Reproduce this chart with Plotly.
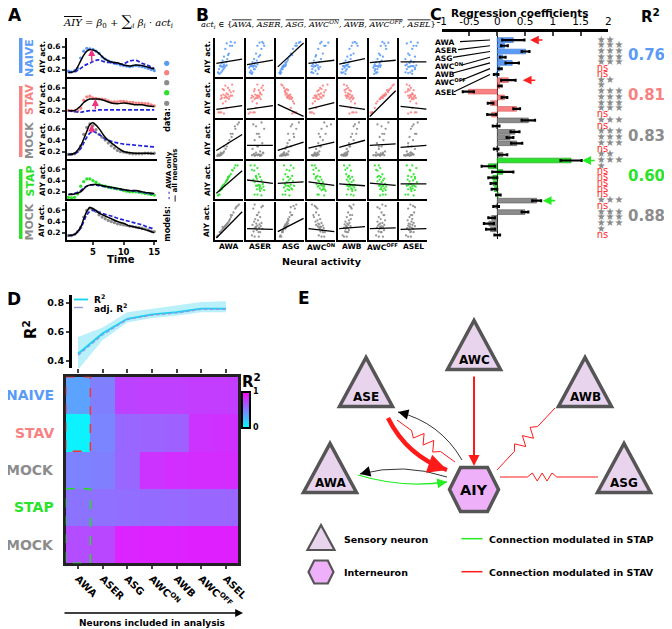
import math
import plotly.graph_objects as go

# page is 672x629; the browser page has an 8px body margin, so the figure is 664x621
PAGE_W, PAGE_H = 672, 629
OFF = 8
W, H = PAGE_W - OFF, PAGE_H - OFF
FONT = "DejaVu Sans"
SERIF = "DejaVu Serif"


def fx(px):
    return (px - OFF) / W


def fy(py):
    return 1 - (py - OFF) / H


# ====================== DATA ======================
CONDITIONS = ["NAIVE", "STAV", "MOCK", "STAP", "MOCK"]
COND_COLORS = ["#5b9bf8", "#f88282", "#8c8c8c", "#2be22b", "#8c8c8c"]
NEURONS = ["AWA", "ASER", "ASG", "AWC<sup>ON</sup>", "AWB", "AWC<sup>OFF</sup>", "ASEL"]

# ---- Panel A: AIY activity over time ----
T_DATA = [1.0, 1.5, 2.0, 2.5, 3.0, 3.5, 4.0, 4.5, 5.0, 5.5, 6.0, 6.5, 7.0, 7.5, 8.0,
          8.5, 9.0, 9.5, 10.0, 10.5, 11.0, 11.5, 12.0, 12.5, 13.0, 13.5, 14.0, 14.5, 15.0]
AIY_NAIVE = [0.17, 0.16, 0.18, 0.22, 0.40, 0.52, 0.57, 0.56, 0.55, 0.52, 0.48, 0.42, 0.38, 0.35, 0.33,
             0.31, 0.30, 0.28, 0.27, 0.26, 0.25, 0.26, 0.27, 0.26, 0.25, 0.24, 0.22, 0.20, 0.18]
AIY_STAV = [0.20, 0.20, 0.19, 0.20, 0.24, 0.38, 0.44, 0.45, 0.42, 0.41, 0.40, 0.40, 0.39, 0.37, 0.35,
            0.35, 0.35, 0.36, 0.36, 0.35, 0.34, 0.34, 0.33, 0.33, 0.33, 0.32, 0.32, 0.30, 0.28]
AIY_MOCK1 = [0.15, 0.15, 0.16, 0.20, 0.30, 0.50, 0.62, 0.68, 0.65, 0.58, 0.50, 0.45, 0.40, 0.35, 0.30,
             0.26, 0.22, 0.20, 0.19, 0.18, 0.17, 0.16, 0.16, 0.16, 0.16, 0.17, 0.17, 0.17, 0.17]
AIY_STAP = [0.10, 0.09, 0.10, 0.16, 0.30, 0.38, 0.43, 0.43, 0.40, 0.37, 0.33, 0.31, 0.30, 0.28, 0.27,
            0.26, 0.25, 0.24, 0.22, 0.21, 0.20, 0.20, 0.20, 0.19, 0.18, 0.17, 0.16, 0.15, 0.14]
AIY_MOCK2 = [0.15, 0.15, 0.17, 0.22, 0.30, 0.48, 0.60, 0.64, 0.62, 0.58, 0.52, 0.48, 0.45, 0.42, 0.40,
             0.38, 0.36, 0.35, 0.34, 0.33, 0.32, 0.31, 0.30, 0.29, 0.28, 0.27, 0.25, 0.23, 0.22]

T_MODEL = [1, 2, 3, 3.5, 4, 4.5, 5, 5.5, 6, 7, 8, 9, 10, 11, 12, 13, 14, 15]
ALL_NAIVE = [0.15, 0.17, 0.35, 0.45, 0.52, 0.55, 0.54, 0.52, 0.48, 0.38, 0.33, 0.32, 0.28, 0.26, 0.28, 0.27, 0.24, 0.21]
AWA_NAIVE = [0.15, 0.16, 0.22, 0.26, 0.29, 0.31, 0.34, 0.36, 0.37, 0.33, 0.32, 0.30, 0.30, 0.35, 0.36, 0.31, 0.27, 0.22]
ALL_STAV = [0.20, 0.20, 0.28, 0.34, 0.38, 0.40, 0.40, 0.40, 0.40, 0.37, 0.33, 0.32, 0.33, 0.32, 0.30, 0.30, 0.28, 0.27]
AWA_STAV = [0.20, 0.18, 0.17, 0.18, 0.19, 0.20, 0.20, 0.20, 0.21, 0.21, 0.21, 0.21, 0.21, 0.21, 0.21, 0.21, 0.21, 0.21]
ALL_MOCK1 = [0.15, 0.17, 0.30, 0.42, 0.55, 0.67, 0.70, 0.66, 0.60, 0.45, 0.35, 0.27, 0.20, 0.18, 0.17, 0.17, 0.17, 0.16]
AWA_MOCK1 = [0.15, 0.16, 0.25, 0.35, 0.45, 0.52, 0.55, 0.53, 0.50, 0.42, 0.38, 0.35, 0.33, 0.32, 0.31, 0.30, 0.29, 0.28]
ALL_STAP = [0.15, 0.16, 0.20, 0.25, 0.30, 0.32, 0.33, 0.33, 0.32, 0.30, 0.28, 0.26, 0.24, 0.22, 0.22, 0.20, 0.18, 0.17]
AWA_STAP = [0.15, 0.17, 0.22, 0.27, 0.30, 0.32, 0.32, 0.32, 0.31, 0.29, 0.27, 0.25, 0.23, 0.22, 0.21, 0.19, 0.17, 0.16]
ALL_MOCK2 = [0.15, 0.17, 0.30, 0.45, 0.58, 0.65, 0.63, 0.60, 0.55, 0.50, 0.45, 0.40, 0.37, 0.32, 0.30, 0.27, 0.24, 0.20]
AWA_MOCK2 = [0.15, 0.17, 0.28, 0.40, 0.52, 0.58, 0.60, 0.58, 0.57, 0.53, 0.50, 0.46, 0.43, 0.40, 0.37, 0.34, 0.30, 0.27]

A_ARROW_ROWS = [0, 1, 2, 4]
A_ARROW_T = [4.8, 5.4, 4.8, 4.9]
A_ARROW_FROM = [0.32, 0.20, 0.50, 0.60]
A_ARROW_TO = [0.56, 0.40, 0.67, 0.655]

# ---- Panel B: AIY activity vs neural activity (per condition, per neuron) ----
B_X_NAIVE = [
    [10, 14, 20, 28, 45, 60, 55, 70, 40, 52, 35, 48, 30, 42, 25, 38, 22, 30, 18, 35, 26, 15, 40, 28, 20, 32, 12, 24, 8],
    [15, 20, 12, 30, 50, 65, 58, 48, 62, 40, 55, 35, 45, 28, 38, 22, 30, 40, 18, 26, 35, 20, 30, 14, 24, 10, 28, 16, 22],
    [8, 12, 15, 20, 55, 72, 85, 80, 70, 66, 58, 50, 45, 40, 38, 34, 30, 32, 26, 28, 22, 30, 25, 20, 24, 18, 15, 12, 10],
    [20, 35, 15, 40, 30, 65, 50, 75, 45, 60, 38, 55, 28, 48, 22, 42, 30, 18, 36, 25, 45, 14, 32, 26, 20, 38, 16, 28, 12],
    [12, 25, 18, 30, 45, 70, 60, 52, 66, 48, 40, 55, 32, 44, 26, 38, 20, 34, 28, 16, 40, 24, 30, 18, 36, 22, 14, 26, 10],
    [25, 18, 30, 22, 40, 60, 48, 70, 55, 42, 62, 35, 50, 30, 45, 25, 38, 20, 42, 28, 33, 18, 36, 24, 40, 15, 30, 20, 26],
    [30, 45, 20, 55, 35, 50, 40, 65, 25, 60, 45, 30, 55, 20, 40, 50, 35, 25, 60, 45, 30, 40, 20, 50, 35, 55, 25, 45, 38]]
B_X_STAV = [
    [10, 20, 30, 15, 40, 55, 35, 60, 45, 25, 50, 30, 65, 40, 20, 55, 35, 45, 28, 60, 38, 50, 22, 42, 32, 48, 18, 36, 26],
    [15, 30, 8, 25, 35, 50, 60, 40, 55, 30, 45, 62, 28, 50, 38, 20, 45, 55, 32, 40, 25, 48, 35, 18, 42, 30, 52, 22, 38],
    [60, 70, 55, 65, 50, 30, 20, 15, 25, 35, 30, 40, 28, 35, 45, 38, 42, 30, 48, 40, 50, 36, 55, 44, 38, 52, 46, 58, 62],
    [10, 15, 22, 8, 30, 60, 55, 72, 45, 50, 40, 65, 35, 48, 30, 55, 25, 42, 38, 58, 32, 45, 28, 50, 20, 40, 35, 26, 18],
    [50, 65, 40, 55, 45, 25, 30, 20, 35, 28, 40, 22, 45, 35, 30, 50, 26, 38, 42, 32, 48, 36, 55, 30, 44, 40, 52, 46, 60],
    [5, 10, 8, 12, 20, 70, 85, 90, 80, 75, 72, 65, 68, 60, 55, 58, 50, 62, 56, 52, 48, 45, 50, 44, 42, 40, 38, 30, 25],
    [40, 55, 30, 60, 45, 20, 35, 25, 40, 30, 50, 35, 28, 45, 38, 55, 30, 42, 48, 36, 52, 40, 58, 34, 46, 50, 44, 38, 60]]
B_X_MOCK1 = [
    [5, 8, 12, 18, 30, 55, 70, 85, 80, 72, 62, 58, 50, 45, 40, 36, 30, 28, 25, 22, 20, 18, 15, 14, 12, 16, 10, 14, 8],
    [30, 50, 20, 60, 40, 45, 35, 55, 25, 65, 38, 48, 30, 58, 42, 22, 50, 35, 62, 28, 45, 40, 55, 32, 48, 38, 26, 52, 44],
    [15, 10, 20, 25, 35, 60, 50, 80, 55, 70, 40, 62, 45, 38, 50, 30, 42, 25, 35, 20, 40, 28, 18, 32, 22, 38, 15, 30, 25],
    [20, 30, 15, 35, 45, 40, 70, 60, 85, 50, 65, 45, 55, 38, 48, 30, 42, 25, 36, 28, 40, 22, 34, 18, 30, 26, 20, 32, 24],
    [18, 25, 10, 30, 40, 65, 55, 75, 60, 68, 50, 45, 55, 38, 42, 30, 35, 28, 22, 32, 26, 20, 30, 15, 24, 28, 18, 22, 12],
    [25, 40, 15, 50, 35, 55, 45, 70, 30, 60, 48, 38, 52, 28, 45, 35, 58, 25, 42, 50, 32, 40, 55, 22, 38, 48, 30, 44, 35],
    [20, 35, 15, 40, 30, 55, 45, 65, 50, 40, 60, 35, 48, 30, 42, 55, 25, 38, 45, 30, 50, 22, 40, 35, 28, 48, 32, 42, 26]]
B_X_STAP = [
    [10, 8, 14, 22, 45, 60, 72, 80, 68, 62, 55, 50, 48, 45, 42, 40, 38, 36, 32, 30, 28, 26, 30, 24, 22, 20, 18, 16, 14],
    [40, 55, 30, 48, 35, 20, 30, 15, 40, 28, 45, 35, 50, 38, 25, 55, 42, 30, 60, 45, 35, 50, 40, 62, 48, 55, 38, 65, 50],
    [30, 45, 20, 55, 40, 35, 50, 25, 60, 45, 30, 55, 38, 48, 22, 42, 58, 35, 28, 50, 40, 32, 62, 45, 25, 52, 38, 44, 30],
    [40, 60, 35, 55, 30, 20, 15, 25, 30, 40, 22, 35, 45, 28, 50, 38, 42, 55, 32, 48, 60, 40, 52, 36, 58, 44, 62, 50, 65],
    [45, 55, 30, 50, 35, 25, 40, 20, 32, 45, 28, 38, 50, 42, 30, 55, 36, 48, 40, 60, 32, 52, 44, 38, 58, 46, 35, 62, 50],
    [50, 40, 60, 45, 30, 25, 35, 20, 40, 30, 48, 35, 42, 55, 38, 50, 30, 45, 58, 40, 52, 36, 48, 62, 44, 55, 40, 60, 50],
    [30, 50, 20, 40, 55, 35, 45, 25, 60, 38, 50, 30, 42, 55, 28, 48, 35, 62, 40, 32, 52, 45, 25, 58, 38, 46, 30, 54, 42]]
B_X_MOCK2 = [
    [5, 4, 8, 14, 25, 55, 75, 85, 80, 72, 65, 60, 56, 52, 50, 48, 44, 42, 40, 38, 36, 34, 32, 30, 28, 26, 22, 18, 16],
    [30, 45, 20, 50, 35, 40, 55, 30, 60, 25, 45, 38, 50, 32, 42, 28, 55, 36, 48, 22, 40, 52, 34, 46, 30, 58, 38, 26, 44],
    [10, 15, 12, 20, 30, 55, 50, 70, 60, 65, 48, 52, 45, 40, 42, 38, 35, 40, 30, 36, 28, 34, 26, 32, 25, 30, 22, 20, 18],
    [50, 60, 40, 55, 45, 20, 30, 15, 25, 35, 30, 40, 22, 45, 35, 28, 50, 38, 42, 30, 55, 36, 48, 40, 58, 44, 52, 46, 62],
    [20, 30, 15, 35, 28, 50, 45, 55, 40, 48, 35, 42, 30, 45, 38, 25, 40, 32, 22, 36, 28, 44, 30, 20, 34, 26, 38, 24, 30],
    [35, 50, 25, 45, 40, 55, 30, 48, 60, 38, 45, 52, 35, 42, 58, 30, 48, 40, 36, 55, 32, 44, 50, 28, 46, 38, 54, 34, 42],
    [30, 40, 22, 50, 35, 45, 55, 38, 48, 30, 52, 40, 35, 45, 28, 42, 50, 32, 38, 46, 30, 55, 36, 44, 26, 48, 34, 40, 38]]
# fitted-line AIY values at the low / high end of neural activity
B_FIT_LO_NAIVE = [0.295, 0.28, 0.25, 0.295, 0.285, 0.305, 0.315]
B_FIT_HI_NAIVE = [0.35, 0.335, 0.555, 0.335, 0.355, 0.335, 0.315]
B_FIT_LO_STAV = [0.227, 0.227, 0.272, 0.23, 0.262, 0.164, 0.255]
B_FIT_HI_STAV = [0.262, 0.262, 0.164, 0.287, 0.227, 0.395, 0.23]
B_FIT_LO_MOCK1 = [0.236, 0.317, 0.236, 0.274, 0.286, 0.317, 0.286]
B_FIT_HI_MOCK1 = [0.49, 0.317, 0.367, 0.367, 0.398, 0.342, 0.317]
B_FIT_LO_STAP = [0.115, 0.265, 0.226, 0.244, 0.222, 0.23, 0.222]
B_FIT_HI_STAP = [0.37, 0.226, 0.244, 0.205, 0.2, 0.205, 0.222]
B_FIT_LO_MOCK2 = [0.13, 0.274, 0.228, 0.274, 0.274, 0.274, 0.262]
B_FIT_HI_MOCK2 = [0.53, 0.262, 0.43, 0.228, 0.303, 0.286, 0.274]

# ---- Panel C: regression coefficients ----
C_COEF_NAIVE = [0.29, 0.13, 0.51, 0.10, 0.27, 0.05, -0.02]
C_ERR_NAIVE = [0.20, 0.06, 0.07, 0.05, 0.12, 0.03, 0.04]
C_COEF_STAV = [0.20, 0.05, -0.52, 0.13, -0.12, 0.35, -0.10]
C_ERR_STAV = [0.13, 0.03, 0.10, 0.05, 0.05, 0.06, 0.08]
C_COEF_MOCK1 = [0.56, -0.02, 0.32, 0.23, 0.35, -0.02, 0.10]
C_ERR_MOCK1 = [0.12, 0.06, 0.08, 0.06, 0.10, 0.04, 0.08]
C_COEF_STAP = [1.33, -0.16, 0.10, -0.08, -0.07, -0.05, 0.02]
C_ERR_STAP = [0.19, 0.12, 0.19, 0.08, 0.05, 0.05, 0.04]
C_COEF_MOCK2 = [0.71, -0.02, 0.50, -0.10, -0.15, -0.12, 0.00]
C_ERR_MOCK2 = [0.08, 0.05, 0.06, 0.06, 0.09, 0.08, 0.05]
# significance: number of stars, 0 = ns
C_SIG_NAIVE = [2, 3, 3, 3, 3, 0, 0]
C_SIG_STAV = [2, 1, 3, 3, 3, 3, 0]
C_SIG_MOCK1 = [3, 0, 3, 3, 3, 0, 2]
C_SIG_STAP = [3, 1, 0, 0, 0, 0, 0]
C_SIG_MOCK2 = [3, 0, 3, 3, 3, 1, 0]
C_R2 = [0.76, 0.81, 0.83, 0.60, 0.88]
C_XTICKS = [-1, -0.5, 0, 0.5, 1, 1.5, 2]

# ---- Panel D: R^2 with increasing number of neurons ----
D_R2 = [0.45, 0.59, 0.69, 0.72, 0.735, 0.76, 0.76]
D_ADJ_R2 = [0.44, 0.58, 0.685, 0.715, 0.73, 0.755, 0.755]
D_R2_HI = [0.565, 0.63, 0.735, 0.76, 0.78, 0.805, 0.81]
D_R2_LO = [0.34, 0.545, 0.665, 0.695, 0.71, 0.735, 0.735]
D_HEAT_NAIVE = [0.36, 0.50, 0.74, 0.75, 0.75, 0.76, 0.76]
D_HEAT_STAV = [0.05, 0.48, 0.60, 0.61, 0.62, 0.80, 0.81]
D_HEAT_MOCK1 = [0.49, 0.50, 0.60, 0.80, 0.82, 0.83, 0.83]
D_HEAT_STAP = [0.55, 0.56, 0.57, 0.58, 0.59, 0.60, 0.60]
D_HEAT_MOCK2 = [0.70, 0.72, 0.86, 0.87, 0.87, 0.88, 0.88]

# ---- Panel E: circuit ----
E_SENSORY = ["AWC", "ASE", "AWB", "AWA", "ASG"]
E_SENSORY_X = [474, 366, 585, 330, 624]
E_SENSORY_Y = [360, 397, 397, 483, 483]
E_INTER = ["AIY"]
E_INTER_X = [474]
E_INTER_Y = [489.5]
E_EDGE_KIND = ["arrow", "curve", "zigzag", "curve", "zigzag", "zigzag", "curve", "curve"]
E_EDGE_MOD = ["STAV", "STAV", "STAV", "none", "STAV", "STAV", "STAP", "none"]
E_EDGE_X0 = [474, 388, 397, 462, 555, 598, 358, 447]
E_EDGE_Y0 = [375, 418, 420, 460, 408, 477, 475, 477]
E_EDGE_X1 = [474, 447, 455, 398, 497, 500, 447, 360]
E_EDGE_Y1 = [466, 470, 462, 412, 470, 477, 482, 474]
E_EDGE_BEND = [0, 8, 0, 8.5, 0, 0, 5, 6.5]

# ====================== FIGURE ======================
A_DATA = [AIY_NAIVE, AIY_STAV, AIY_MOCK1, AIY_STAP, AIY_MOCK2]
A_ALL = [ALL_NAIVE, ALL_STAV, ALL_MOCK1, ALL_STAP, ALL_MOCK2]
A_AWA = [AWA_NAIVE, AWA_STAV, AWA_MOCK1, AWA_STAP, AWA_MOCK2]
B_X = [B_X_NAIVE, B_X_STAV, B_X_MOCK1, B_X_STAP, B_X_MOCK2]
B_LO = [B_FIT_LO_NAIVE, B_FIT_LO_STAV, B_FIT_LO_MOCK1, B_FIT_LO_STAP, B_FIT_LO_MOCK2]
B_HI = [B_FIT_HI_NAIVE, B_FIT_HI_STAV, B_FIT_HI_MOCK1, B_FIT_HI_STAP, B_FIT_HI_MOCK2]
C_COEF = [C_COEF_NAIVE, C_COEF_STAV, C_COEF_MOCK1, C_COEF_STAP, C_COEF_MOCK2]
C_ERR = [C_ERR_NAIVE, C_ERR_STAV, C_ERR_MOCK1, C_ERR_STAP, C_ERR_MOCK2]
C_SIG = [C_SIG_NAIVE, C_SIG_STAV, C_SIG_MOCK1, C_SIG_STAP, C_SIG_MOCK2]
D_HEAT = [D_HEAT_NAIVE, D_HEAT_STAV, D_HEAT_MOCK1, D_HEAT_STAP, D_HEAT_MOCK2]

fig = go.Figure()
LAYOUT = {}
annotations = []
shapes = []
counter = [0]


def add_axes(xd, yd, xkw, ykw):
    counter[0] += 1
    n = counter[0]
    s = "" if n == 1 else str(n)
    LAYOUT["xaxis" + s] = dict(domain=xd, anchor="y" + s, automargin=False, **xkw)
    LAYOUT["yaxis" + s] = dict(domain=yd, anchor="x" + s, automargin=False, **ykw)
    return "x" + s, "y" + s


def bfont(size, color="black"):
    return dict(family=FONT, size=size, color=color, weight="bold")


def text(px, py, s, size, color="black", bold=True, angle=0, xanchor="center",
         yanchor="middle", family=FONT):
    annotations.append(dict(x=fx(px), y=fy(py), xref="paper", yref="paper", text=s,
                            showarrow=False, textangle=angle, xanchor=xanchor, yanchor=yanchor,
                            font=dict(family=family, size=size, color=color,
                                      weight="bold" if bold else "normal")))


def pline(x0, y0, x1, y1, color="black", width=1, dash=None):
    shapes.append(dict(type="line", xref="paper", yref="paper", x0=fx(x0), y0=fy(y0),
                       x1=fx(x1), y1=fy(y1), line=dict(color=color, width=width, dash=dash)))


def prect(x0, y0, x1, y1, color):
    shapes.append(dict(type="rect", xref="paper", yref="paper", x0=fx(x0), y0=fy(y0),
                       x1=fx(x1), y1=fy(y1), fillcolor=color, line=dict(width=0)))


NOAX = dict(showgrid=False, zeroline=False)

# ---------------- Panel A ----------------
ROW_TOP = [38, 79, 120, 161, 202]
ROW_BOT = [77, 118, 159, 199, 240]
a_axes = []
for r in range(5):
    last = r == 4
    xa, ya = add_axes(
        [fx(67), fx(157)], [fy(ROW_BOT[r]), fy(ROW_TOP[r])],
        dict(range=[0.77, 15.45], showline=True, linecolor="black", linewidth=2, tickvals=[5, 10, 15],
             ticks="outside" if last else "", ticklen=3, tickwidth=1.5, showticklabels=last,
             tickfont=bfont(8.5), **NOAX),
        dict(range=[0.07, 0.75], showline=True, linecolor="black", linewidth=2, tickvals=[0.2, 0.4, 0.6],
             ticks="outside", ticklen=3, tickwidth=1.5, tickfont=bfont(7.5), **NOAX))
    a_axes.append((xa, ya))
    fig.add_trace(go.Scatter(x=T_DATA, y=A_DATA[r], mode="markers", xaxis=xa, yaxis=ya,
                             marker=dict(size=3.3, color=COND_COLORS[r])))
    fig.add_trace(go.Scatter(x=T_MODEL, y=A_AWA[r], mode="lines", xaxis=xa, yaxis=ya,
                             line=dict(color="#2323d6", width=1.7, dash="4px,2px", shape="spline")))
    fig.add_trace(go.Scatter(x=T_MODEL, y=A_ALL[r], mode="lines", xaxis=xa, yaxis=ya,
                             line=dict(color="black", width=1.5, shape="spline")))
    text(42, (ROW_TOP[r] + ROW_BOT[r]) / 2, "AIY act.", 7.5, angle=-90)
    text(29.5, (ROW_TOP[r] + ROW_BOT[r]) / 2 + 1, CONDITIONS[r], 11, COND_COLORS[r], angle=-90)

for k, r in enumerate(A_ARROW_ROWS):
    xa, ya = a_axes[r]
    annotations.append(dict(x=A_ARROW_T[k], y=A_ARROW_TO[k], ax=A_ARROW_T[k], ay=A_ARROW_FROM[k],
                            xref=xa, yref=ya, axref=xa, ayref=ya, text="", showarrow=True,
                            arrowhead=2, arrowsize=1, arrowwidth=1.4, arrowcolor="#f2307c"))

prect(19, 38, 22.5, 73, COND_COLORS[0])
prect(19, 86, 22.5, 157, COND_COLORS[1])
prect(19, 169, 22.5, 239, COND_COLORS[3])
for i, py in enumerate([63.3, 72.7, 82.7, 92.7, 103.3]):
    shapes.append(dict(type="circle", xref="paper", yref="paper", x0=fx(164.1), x1=fx(169.3),
                       y0=fy(py + 2.6), y1=fy(py - 2.6), fillcolor=COND_COLORS[i], line=dict(width=0)))
text(166.7, 120, "data:", 8, angle=-90)
text(166.7, 224, "models:", 8, angle=-90)
text(168.5, 176, "<span style='color:#2323d6'>- -</span> AWA only", 7, angle=-90)
text(175, 175, "<span style='color:black'>—</span> all neurons", 7, angle=-90)
text(121, 259, "Time", 10)
text(15, 15, "A", 17)
text(118, 21, "<span style='text-decoration:overline'><i>AIY</i></span> = <i>β</i><sub>0</sub> + "
              "<span style='font-size:15px'>∑</span><sub><i>i</i></sub> <i>β<sub>i</sub></i> · "
              "<i>act<sub>i</sub></i>", 10,
     bold=False, family=SERIF)

# ---------------- Panel B ----------------
B_YRANGE = [[0.12, 0.62], [0.15, 0.5], [0.1, 0.72], [0.05, 0.48], [0.1, 0.68]]
for r in range(5):
    for c in range(7):
        x0 = 215 + 30.7 * c
        xa, ya = add_axes(
            [fx(x0), fx(x0 + 28)], [fy(ROW_BOT[r]), fy(ROW_TOP[r])],
            dict(range=[-3, 100], showline=True, linecolor="black", linewidth=1.5,
                 showticklabels=False, ticks="", **NOAX),
            dict(range=B_YRANGE[r], showline=True, linecolor="black", linewidth=1.5,
                 showticklabels=False, ticks="", **NOAX))
        fig.add_trace(go.Scatter(x=B_X[r][c], y=A_DATA[r], mode="markers", xaxis=xa, yaxis=ya,
                                 marker=dict(size=2.3, color=COND_COLORS[r], opacity=0.9)))
        fig.add_trace(go.Scatter(x=[2, 97], y=[B_LO[r][c], B_HI[r][c]], mode="lines", xaxis=xa, yaxis=ya,
                                 line=dict(color="black", width=1.3)))
    text(207, (ROW_TOP[r] + ROW_BOT[r]) / 2, "AIY act.", 7.5, angle=-90)
for c in range(7):
    text(229 + 30.7 * c, 247, NEURONS[c], 7.5)
text(322, 261, "Neural activity", 9.5)
text(202, 15, "B", 17)
ov = "<span style='text-decoration:overline'>%s</span>"
text(318, 24, "<i>act<sub>i</sub></i> ∈ {" + ", ".join(
    ov % ("<i>" + n.replace("<sup>", "</i><sup><i>").replace("</sup>", "</i></sup><i>") + "</i>")
    for n in NEURONS) + "}", 8.2, bold=False, family=SERIF)

# ---------------- Panel C ----------------
xc, yc = add_axes(
    [fx(441.7), fx(608.3)], [fy(238.5), fy(32)],
    dict(range=[-1, 2], side="top", showline=True, linecolor="black", linewidth=2.5, ticks="inside",
         ticklen=4, tickwidth=2, tickvals=C_XTICKS, ticktext=[str(v) for v in C_XTICKS],
         tickfont=dict(family=FONT, size=10.5, color="black"), showgrid=False, zeroline=True,
         zerolinecolor="black", zerolinewidth=1),
    dict(range=[34.6, -1.4], showline=False, showticklabels=False, ticks="", **NOAX))
DARK = ["#2e6fd0", "#d85a5a", "#5a5a5a", "#119911", "#5a5a5a"]
star_y, star_t, ns_y = [], [], []
for g in range(5):
    ys = [g * 7 + i for i in range(7)]
    fig.add_trace(go.Bar(x=C_COEF[g], y=ys, orientation="h", xaxis=xc, yaxis=yc, width=0.82,
                         marker=dict(color=COND_COLORS[g], line=dict(color=DARK[g], width=0.6)),
                         error_x=dict(type="data", array=C_ERR[g], color="black", thickness=2.2, width=1.5)))
    for i in range(7):
        if C_SIG[g][i] > 0:
            star_y.append(g * 7 + i)
            star_t.append("★" * C_SIG[g][i])
        else:
            ns_y.append(g * 7 + i)
fig.add_trace(go.Scatter(x=[1.79] * len(star_y), y=star_y, text=star_t, mode="text", xaxis=xc, yaxis=yc,
                         textposition="middle right", cliponaxis=False,
                         textfont=dict(family=FONT, size=10, color="#8a8a8a")))
fig.add_trace(go.Scatter(x=[1.79] * len(ns_y), y=ns_y, text=["ns"] * len(ns_y), mode="text", xaxis=xc,
                         yaxis=yc, textposition="middle right", cliponaxis=False,
                         textfont=dict(family=FONT, size=10, color="#ff2a2a")))
for g in range(5):
    text(646, 40 + 5.736 * (7 * g + 3) - 2, "%.2f" % C_R2[g], 15, COND_COLORS[g])
text(650, 16, "R<sup>2</sup>", 15)
text(436, 14, "C", 16)
text(519, 12.5, "Regression coefficients", 10.5)
LBL_PY = [42.7, 50.7, 58.3, 66, 74, 81.7, 92.7]
LBL_END = [460, 458, 453, 462, 453, 460, 454]
for i in range(7):
    text(433, LBL_PY[i], NEURONS[i], 7.5, xanchor="left")
    pline(LBL_END[i], LBL_PY[i] - 1, 490, 40 + 5.736 * i, "black", 1.2)
for g, i, tip, col in [(0, 0, 0.59, "#ff2020"), (1, 0, 0.46, "#ff2020"),
                       (3, 0, 1.53, "#22ee22"), (4, 0, 0.82, "#22ee22")]:
    annotations.append(dict(x=tip, y=g * 7 + i, xref=xc, yref=yc, ax=14, ay=0, text="",
                            showarrow=True, arrowhead=2, arrowsize=1.1, arrowwidth=1.6,
                            arrowcolor=col))

# ---------------- Panel D ----------------
xd, yd = add_axes(
    [fx(71.7), fx(238.3)], [fy(368), fy(295)],
    dict(range=[-0.255, 6.5], showline=False, ticks="outside", tickvals=list(range(7)), ticklen=4,
         tickwidth=1.5, showticklabels=False, **NOAX),
    dict(range=[0.352, 0.853], showline=True, linecolor="black", linewidth=2.5, ticks="outside",
         ticklen=3, tickwidth=1.5, tickvals=[0.4, 0.6, 0.8], tickfont=bfont(9.5), **NOAX))
xs = list(range(7))
fig.add_trace(go.Scatter(x=xs, y=D_R2_LO, mode="lines", line=dict(width=0), xaxis=xd, yaxis=yd,
                         hoverinfo="skip"))
fig.add_trace(go.Scatter(x=xs, y=D_R2_HI, mode="lines", line=dict(width=0), fill="tonexty",
                         fillcolor="rgba(70,215,240,0.38)", xaxis=xd, yaxis=yd))
fig.add_trace(go.Scatter(x=xs, y=D_R2, mode="lines", line=dict(color="#14d4f0", width=1.8),
                         xaxis=xd, yaxis=yd))
fig.add_trace(go.Scatter(x=xs, y=D_ADJ_R2, mode="lines", line=dict(color="#8c9ee6", width=1.4, dash="4px,2px"),
                         xaxis=xd, yaxis=yd))
pline(74, 299.5, 88, 299.5, "#14d4f0", 1.8)
pline(74, 307.5, 88, 307.5, "#8c9ee6", 1.4, "dash")
text(92, 299, "R<sup>2</sup>", 9, xanchor="left")
text(92, 308, "adj. R<sup>2</sup>", 9, xanchor="left")
text(30, 330, "R<sup>2</sup>", 15, angle=-90)
text(14, 299, "D", 17)

xh, yh = add_axes(
    [fx(65.7), fx(238.3)], [fy(563.3), fy(376.7)],
    dict(range=[-0.5, 6.5], showline=True, mirror=True, linecolor="#222", linewidth=2.5, ticks="outside",
         tickvals=list(range(7)), ticktext=NEURONS, tickangle=45, ticklen=3, tickwidth=1.5,
         tickfont=bfont(10), **NOAX),
    dict(range=[4.5, -0.5], showline=True, mirror=True, linecolor="#222", linewidth=2.5,
         showticklabels=False, ticks="", **NOAX))
fig.add_trace(go.Heatmap(z=D_HEAT, x=xs, y=list(range(5)), xaxis=xh, yaxis=yh, zmin=0, zmax=1,
                         colorscale=[[0, "#00ffff"], [1, "#ff00ff"]],
                         colorbar=dict(x=fx(242), xanchor="left", y=fy(427.5), yanchor="bottom",
                                       len=36 / H, lenmode="fraction", thickness=8, thicknessmode="pixels",
                                       outlinewidth=2, outlinecolor="black", tickvals=[0, 1],
                                       ticktext=["0", "1"], ticks="", tickfont=bfont(8), xpad=0, ypad=0)))
for r in range(5):
    text(56, 376.7 + 37.3 * (r + 0.5), CONDITIONS[r], 14, COND_COLORS[r], xanchor="right")
shapes.append(dict(type="rect", xref=xh, yref=yh, x0=-0.5, x1=0.5, y0=-0.5, y1=1.5,
                   line=dict(color="#ff3030", width=1.5, dash="dash")))
shapes.append(dict(type="rect", xref=xh, yref=yh, x0=-0.5, x1=0.5, y0=2.5, y1=4.5,
                   line=dict(color="#22dd22", width=1.5, dash="dash")))
text(251, 381, "R<sup>2</sup>", 15)
annotations.append(dict(x=fx(243), y=fy(613), ax=-180, ay=0, xref="paper", yref="paper",
                        text="", showarrow=True, arrowhead=2,
                        arrowsize=1.2, arrowwidth=1.3, arrowcolor="black"))
text(152, 623, "Neurons included in analysis", 9)

# ---------------- Panel E ----------------
xe, ye = add_axes([fx(300), fx(672)], [fy(629), fy(260)],
                  dict(range=[300, 672], visible=False), dict(range=[629, 260], visible=False))
MOD_COLOR = {"STAV": "#ff1a1a", "STAP": "#22ee22", "none": "black"}
EDGE_W = [2, 4.5, 1, 0.8, 1, 1, 1.3, 0.8]
ZIG = {2: (0.25, 0.75, 3, 5), 4: (0.3, 0.7, 3, 5), 5: (0.42, 0.72, 3, 4)}


def zigzag_path(x0, y0, x1, y1, f0, f1, n, amp):
    dx, dy = x1 - x0, y1 - y0
    L = math.hypot(dx, dy)
    nx, ny = -dy / L, dx / L
    pts = [(x0, y0), (x0 + dx * f0, y0 + dy * f0)]
    for k in range(1, 2 * n):
        f = f0 + (f1 - f0) * k / (2 * n)
        s = amp if k % 2 else -amp
        pts.append((x0 + dx * f + nx * s, y0 + dy * f + ny * s))
    pts.append((x0 + dx * f1, y0 + dy * f1))
    pts.append((x1, y1))
    return "M " + " L ".join("%.2f,%.2f" % p for p in pts)


for e in range(len(E_EDGE_KIND)):
    x0, y0, x1, y1 = E_EDGE_X0[e], E_EDGE_Y0[e], E_EDGE_X1[e], E_EDGE_Y1[e]
    col = MOD_COLOR[E_EDGE_MOD[e]]
    w = EDGE_W[e]
    kind = E_EDGE_KIND[e]
    if kind == "arrow":
        annotations.append(dict(x=x1, y=y1, ax=x0, ay=y0, xref=xe, yref=ye, axref=xe, ayref=ye, text="",
                                showarrow=True, arrowhead=2, arrowsize=1.1, arrowwidth=w, arrowcolor=col))
    elif kind == "zigzag":
        f0, f1, n, amp = ZIG[e]
        shapes.append(dict(type="path", xref=xe, yref=ye, path=zigzag_path(x0, y0, x1, y1, f0, f1, n, amp),
                           line=dict(color=col, width=w)))
    else:
        dx, dy = x1 - x0, y1 - y0
        L = math.hypot(dx, dy)
        nx, ny = -dy / L, dx / L
        b = E_EDGE_BEND[e]
        cx = (x0 + x1) / 2 + 2 * b * nx
        cy = (y0 + y1) / 2 + 2 * b * ny
        shapes.append(dict(type="path", xref=xe, yref=ye,
                           path="M %.2f,%.2f Q %.2f,%.2f %.2f,%.2f" % (x0, y0, cx, cy, x1, y1),
                           line=dict(color=col, width=w)))
        tx, ty = x1 - cx, y1 - cy
        tl = math.hypot(tx, ty)
        d = 10
        size = 0.85 if w > 3 else (1.5 if w > 1 else 2.6)
        annotations.append(dict(x=x1, y=y1, ax=x1 - d * tx / tl, ay=y1 - d * ty / tl, xref=xe, yref=ye,
                                axref=xe, ayref=ye, text="", showarrow=True, arrowhead=2,
                                arrowsize=size, arrowwidth=w, arrowcolor=col))


def tri_path(cx, apex, base, hw):
    return "M %.1f,%.1f L %.1f,%.1f L %.1f,%.1f Z" % (cx, apex, cx - hw, base, cx + hw, base)


def hex_path(cx, cy, hw, he, hh):
    pts = [(cx - hw, cy), (cx - he, cy - hh), (cx + he, cy - hh), (cx + hw, cy), (cx + he, cy + hh),
           (cx - he, cy + hh)]
    return "M " + " L ".join("%.1f,%.1f" % p for p in pts) + " Z"


TRI_FILL = "#e9d4ee"
HEX_FILL = "#eeb0f8"
EDGE_COL = "#555555"
for i, name in enumerate(E_SENSORY):
    cx, ty = E_SENSORY_X[i], E_SENSORY_Y[i]
    shapes.append(dict(type="path", xref=xe, yref=ye, path=tri_path(cx, ty - 39.5, ty + 9.5, 26.5),
                       fillcolor=TRI_FILL, line=dict(color=EDGE_COL, width=3.5)))
    annotations.append(dict(x=cx, y=ty, xref=xe, yref=ye, text=name, showarrow=False, font=bfont(12)))
for i, name in enumerate(E_INTER):
    cx, cy = E_INTER_X[i], E_INTER_Y[i]
    shapes.append(dict(type="path", xref=xe, yref=ye, path=hex_path(cx, cy, 24.5, 13.5, 22),
                       fillcolor=HEX_FILL, line=dict(color=EDGE_COL, width=3.5)))
    annotations.append(dict(x=cx, y=cy, xref=xe, yref=ye, text=name, showarrow=False, font=bfont(14.5)))

# legend of E
shapes.append(dict(type="path", xref=xe, yref=ye, path=tri_path(321, 525, 550, 13.5),
                   fillcolor=TRI_FILL, line=dict(color=EDGE_COL, width=2.2)))
shapes.append(dict(type="path", xref=xe, yref=ye, path=hex_path(321, 572, 12.5, 6.8, 11.5),
                   fillcolor=HEX_FILL, line=dict(color=EDGE_COL, width=2.2)))
text(342, 539, "Sensory neuron", 9.5, xanchor="left")
text(342, 572, "Interneuron", 9.5, xanchor="left")
pline(461.5, 538.7, 482.5, 538.7, "#22ee22", 1.5)
pline(461.5, 571.7, 482.5, 571.7, "#ff1a1a", 1.5)
text(487, 539, "Connection modulated in STAP", 9.5, xanchor="left")
text(487, 572, "Connection modulated in STAV", 9.5, xanchor="left")
text(304, 298, "E", 17)

fig.update_traces(showlegend=False)
fig.update_layout(width=W, height=H, margin=dict(l=0, r=0, t=0, b=0, pad=0, autoexpand=False),
                  paper_bgcolor="white", plot_bgcolor="rgba(0,0,0,0)", showlegend=False,
                  barmode="overlay", annotations=annotations, shapes=shapes, **LAYOUT)
fig.write_html("out.html")
